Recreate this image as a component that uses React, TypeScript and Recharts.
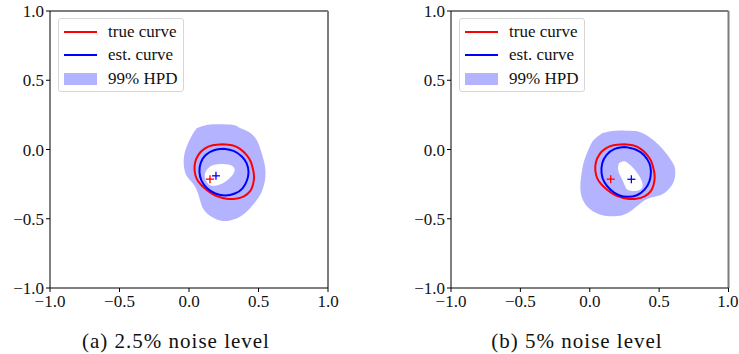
import { ScatterChart, Scatter, XAxis, YAxis, ReferenceLine, Legend } from "recharts";

type Pt = { x: number; y: number };

const TICKS = [-1, -0.5, 0, 0.5, 1];

// true boundary curve (same in both panels)
const TRUE_CURVE: Pt[] = [
  { x: 0.245, y: 0.038 }, { x: 0.31, y: 0.03 }, { x: 0.367, y: 0.005 }, { x: 0.415, y: -0.04 },
  { x: 0.445, y: -0.09 }, { x: 0.462, y: -0.15 }, { x: 0.468, y: -0.2 }, { x: 0.46, y: -0.255 },
  { x: 0.44, y: -0.3 }, { x: 0.395, y: -0.338 }, { x: 0.335, y: -0.355 }, { x: 0.27, y: -0.355 },
  { x: 0.215, y: -0.342 }, { x: 0.165, y: -0.318 }, { x: 0.125, y: -0.29 }, { x: 0.088, y: -0.256 },
  { x: 0.055, y: -0.21 }, { x: 0.04, y: -0.15 }, { x: 0.045, y: -0.09 }, { x: 0.07, y: -0.035 },
  { x: 0.11, y: 0.005 }, { x: 0.17, y: 0.03 }, { x: 0.245, y: 0.038 },
];
const TRUE_CENTER: Pt[] = [{ x: 0.151, y: -0.214 }];

// (a) 2.5% noise
const EST_A: Pt[] = [
  { x: 0.25, y: 0.005 }, { x: 0.32, y: -0.01 }, { x: 0.38, y: -0.05 }, { x: 0.415, y: -0.1 },
  { x: 0.428, y: -0.16 }, { x: 0.418, y: -0.22 }, { x: 0.385, y: -0.28 }, { x: 0.33, y: -0.318 },
  { x: 0.26, y: -0.332 }, { x: 0.19, y: -0.318 }, { x: 0.13, y: -0.28 }, { x: 0.09, y: -0.225 },
  { x: 0.075, y: -0.16 }, { x: 0.085, y: -0.095 }, { x: 0.12, y: -0.04 }, { x: 0.18, y: -0.005 },
  { x: 0.25, y: 0.005 },
];
const EST_CENTER_A: Pt[] = [{ x: 0.194, y: -0.19 }];
const HPD_A: Pt[] = [
  { x: 0.055, y: 0.153 }, { x: 0.12, y: 0.175 }, { x: 0.199, y: 0.182 }, { x: 0.319, y: 0.177 },
  { x: 0.367, y: 0.155 }, { x: 0.427, y: 0.129 }, { x: 0.487, y: 0.069 }, { x: 0.523, y: -0.027 },
  { x: 0.547, y: -0.124 }, { x: 0.547, y: -0.22 }, { x: 0.523, y: -0.305 }, { x: 0.487, y: -0.365 },
  { x: 0.427, y: -0.437 }, { x: 0.367, y: -0.485 }, { x: 0.295, y: -0.512 }, { x: 0.223, y: -0.512 },
  { x: 0.151, y: -0.478 }, { x: 0.103, y: -0.43 }, { x: 0.079, y: -0.365 }, { x: 0.055, y: -0.29 },
  { x: 0.019, y: -0.235 }, { x: -0.017, y: -0.19 }, { x: -0.036, y: -0.124 }, { x: -0.036, y: -0.052 },
  { x: -0.017, y: 0.02 }, { x: 0.019, y: 0.097 }, { x: 0.055, y: 0.153 },
];
const HOLE_A: Pt[] = [
  { x: 0.127, y: -0.148 }, { x: 0.163, y: -0.118 }, { x: 0.223, y: -0.105 }, { x: 0.283, y: -0.108 },
  { x: 0.322, y: -0.128 }, { x: 0.325, y: -0.165 }, { x: 0.29, y: -0.21 }, { x: 0.24, y: -0.245 },
  { x: 0.185, y: -0.262 }, { x: 0.14, y: -0.25 }, { x: 0.117, y: -0.21 }, { x: 0.115, y: -0.175 },
  { x: 0.127, y: -0.148 },
];

// (b) 5% noise
const EST_B: Pt[] = [
  { x: 0.255, y: 0.018 }, { x: 0.33, y: 0.0 }, { x: 0.39, y: -0.04 }, { x: 0.43, y: -0.1 },
  { x: 0.441, y: -0.16 }, { x: 0.43, y: -0.23 }, { x: 0.395, y: -0.29 }, { x: 0.34, y: -0.33 },
  { x: 0.275, y: -0.342 }, { x: 0.21, y: -0.33 }, { x: 0.15, y: -0.29 }, { x: 0.105, y: -0.235 },
  { x: 0.085, y: -0.17 }, { x: 0.09, y: -0.1 }, { x: 0.12, y: -0.04 }, { x: 0.18, y: 0.005 },
  { x: 0.255, y: 0.018 },
];
const EST_CENTER_B: Pt[] = [{ x: 0.3, y: -0.215 }];
const HPD_B: Pt[] = [
  { x: 0.088, y: 0.117 }, { x: 0.148, y: 0.132 }, { x: 0.22, y: 0.138 }, { x: 0.3, y: 0.135 },
  { x: 0.364, y: 0.125 }, { x: 0.436, y: 0.085 }, { x: 0.5, y: 0.03 }, { x: 0.56, y: -0.04 },
  { x: 0.6, y: -0.1 }, { x: 0.616, y: -0.15 }, { x: 0.609, y: -0.22 }, { x: 0.575, y: -0.28 },
  { x: 0.52, y: -0.325 }, { x: 0.45, y: -0.345 }, { x: 0.39, y: -0.37 }, { x: 0.34, y: -0.41 },
  { x: 0.27, y: -0.46 }, { x: 0.2, y: -0.48 }, { x: 0.12, y: -0.48 }, { x: 0.04, y: -0.455 },
  { x: -0.02, y: -0.41 }, { x: -0.055, y: -0.35 }, { x: -0.068, y: -0.28 }, { x: -0.063, y: -0.2 },
  { x: -0.05, y: -0.12 }, { x: -0.03, y: -0.05 }, { x: 0.0, y: 0.02 }, { x: 0.03, y: 0.07 },
  { x: 0.088, y: 0.117 },
];
const HOLE_B: Pt[] = [
  { x: 0.21, y: -0.1 }, { x: 0.25, y: -0.085 }, { x: 0.3, y: -0.12 }, { x: 0.35, y: -0.18 },
  { x: 0.38, y: -0.245 }, { x: 0.37, y: -0.285 }, { x: 0.33, y: -0.3 }, { x: 0.28, y: -0.295 },
  { x: 0.255, y: -0.265 }, { x: 0.23, y: -0.21 }, { x: 0.205, y: -0.15 }, { x: 0.21, y: -0.1 },
];

const LEGEND_ITEMS = [
  { label: "true curve", kind: "line", color: "#ff0000" },
  { label: "est. curve", kind: "line", color: "#0000ff" },
  { label: "99% HPD", kind: "patch", color: "#b3b3ff" },
];

const FONT = "Liberation Serif, DejaVu Serif, serif";
const HPD_FILL = "#b3b3ff";

const fmt = (v: number) => v.toFixed(1).replace("-", "\u2212");
const noDot = () => <g />;

function plus(color: string) {
  return (p: any) => (
    <g>
      <line x1={p.cx - 4} x2={p.cx + 4} y1={p.cy} y2={p.cy} stroke={color} strokeWidth={1.3} />
      <line x1={p.cx} x2={p.cx} y1={p.cy - 4} y2={p.cy + 4} stroke={color} strokeWidth={1.3} />
    </g>
  );
}

function LegendBox() {
  return (
    <div
      style={{
        position: "relative", width: 126, height: 74, boxSizing: "border-box",
        border: "1px solid #d6d6d6", borderRadius: 3, background: "rgba(255,255,255,0.8)",
        fontFamily: FONT, fontSize: 17, color: "#111",
      }}
    >
      {LEGEND_ITEMS.map((it, i) => (
        <div
          key={it.label}
          style={{ position: "absolute", left: 0, top: 3 + i * 23.3, height: 20, display: "flex", alignItems: "center", whiteSpace: "nowrap" }}
        >
          <span style={{ display: "inline-block", marginLeft: 5, width: 33, height: it.kind === "line" ? 2 : 12, background: it.color }} />
          <span style={{ marginLeft: 11 }}>{it.label}</span>
        </div>
      ))}
    </div>
  );
}

type PanelProps = {
  left: number;
  width: number;
  marginRight: number;
  hpd: Pt[];
  hole: Pt[];
  est: Pt[];
  estCenter: Pt[];
  caption: string;
};

function Panel({ left, width, marginRight, hpd, hole, est, estCenter, caption }: PanelProps) {
  const tick = { fontSize: 17, fill: "#111", fontFamily: FONT };
  return (
    <div style={{ position: "absolute", left, top: 0, width, height: 354 }}>
      <ScatterChart width={width} height={320} margin={{ top: 11, right: marginRight, bottom: 2, left: 10 }} style={{ fontFamily: FONT }}>
        <XAxis
          type="number" dataKey="x" domain={[-1, 1]} ticks={TICKS} tickFormatter={fmt}
          height={30} tickSize={4} tickMargin={3} tick={tick}
          axisLine={{ stroke: "#000" }} tickLine={{ stroke: "#000" }}
        />
        <YAxis
          type="number" dataKey="y" domain={[-1, 1]} ticks={TICKS} tickFormatter={fmt}
          width={40} tickSize={4} tickMargin={2} tick={tick}
          axisLine={{ stroke: "#000" }} tickLine={{ stroke: "#000" }}
        />
        {/* top and right spines */}
        <ReferenceLine y={1} stroke="#7c7c7c" strokeWidth={2} />
        <ReferenceLine x={1} stroke="#7c7c7c" strokeWidth={2} />

        {/* 99% HPD region, hole punched out in white */}
        <Scatter data={hpd} shape={noDot} line={{ fill: HPD_FILL, stroke: "none" }} lineJointType="natural" isAnimationActive={false} />
        <Scatter data={hole} shape={noDot} line={{ fill: "#ffffff", stroke: "none" }} lineJointType="natural" isAnimationActive={false} />

        <Scatter data={TRUE_CURVE} shape={noDot} line={{ stroke: "#ff0000", strokeWidth: 2 }} lineJointType="natural" isAnimationActive={false} />
        <Scatter data={est} shape={noDot} line={{ stroke: "#0000ff", strokeWidth: 2 }} lineJointType="natural" isAnimationActive={false} />

        <Scatter data={TRUE_CENTER} shape={plus("#ff0000")} isAnimationActive={false} />
        <Scatter data={estCenter} shape={plus("#0000ff")} isAnimationActive={false} />

        <Legend
          verticalAlign="middle" align="center" layout="horizontal"
          wrapperStyle={{ left: 58, top: 18, width: 126, height: 74 }}
          content={() => <LegendBox />}
        />
      </ScatterChart>
      <div
        style={{
          position: "absolute", left: 26, width: 300, top: 329, textAlign: "center",
          fontFamily: FONT, fontSize: 21, lineHeight: "24px", letterSpacing: 1, color: "#111",
        }}
      >
        {caption}
      </div>
    </div>
  );
}

export default function App() {
  return (
    <div style={{ position: "absolute", left: 0, top: 0, width: 739, height: 354, background: "#fff", overflow: "hidden" }}>
      <Panel left={0} width={370} marginRight={42} hpd={HPD_A} hole={HOLE_A} est={EST_A} estCenter={EST_CENTER_A} caption="(a) 2.5% noise level" />
      <Panel left={401} width={337.5} marginRight={10} hpd={HPD_B} hole={HOLE_B} est={EST_B} estCenter={EST_CENTER_B} caption="(b) 5% noise level" />
    </div>
  );
}
